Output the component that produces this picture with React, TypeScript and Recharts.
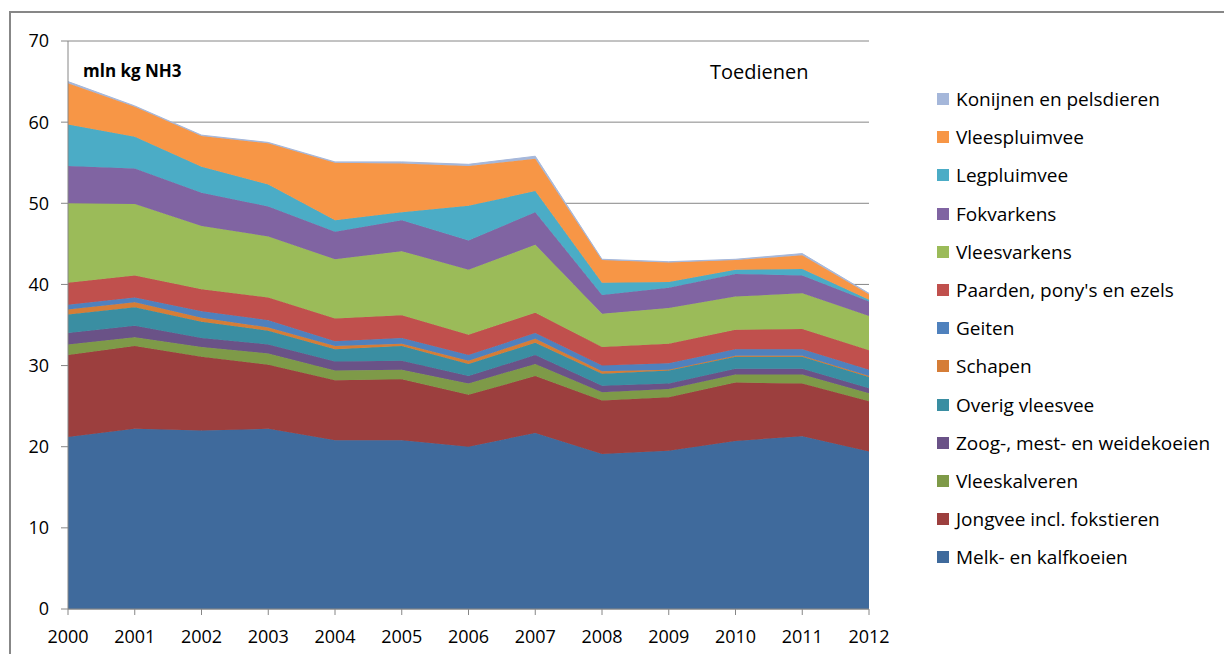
import { Area, AreaChart, CartesianGrid, XAxis, YAxis } from 'recharts';

const years = ['2000', '2001', '2002', '2003', '2004', '2005', '2006', '2007', '2008', '2009', '2010', '2011', '2012'];

const melk = [21.2, 22.2, 22.0, 22.2, 20.8, 20.8, 20.0, 21.7, 19.1, 19.5, 20.7, 21.3, 19.4];
const jongvee = [10.1, 10.2, 9.1, 7.9, 7.4, 7.5, 6.4, 7.0, 6.6, 6.6, 7.2, 6.5, 6.2];
const vleeskalveren = [1.3, 1.1, 1.2, 1.4, 1.2, 1.2, 1.4, 1.5, 1.0, 1.0, 1.0, 1.1, 1.0];
const zoogkoeien = [1.4, 1.4, 1.1, 1.1, 1.1, 1.1, 0.9, 1.1, 0.8, 0.7, 0.7, 0.7, 0.6];
const overigVleesvee = [2.3, 2.3, 2.0, 1.7, 1.5, 1.8, 1.5, 1.5, 1.5, 1.6, 1.5, 1.5, 1.4];
const schapen = [0.6, 0.6, 0.5, 0.4, 0.4, 0.3, 0.4, 0.5, 0.3, 0.1, 0.1, 0.1, 0.1];
const geiten = [0.6, 0.6, 0.8, 0.9, 0.6, 0.7, 0.7, 0.7, 0.7, 0.8, 0.8, 0.8, 0.8];
const paarden = [2.7, 2.7, 2.7, 2.8, 2.8, 2.8, 2.5, 2.5, 2.3, 2.4, 2.4, 2.5, 2.4];
const vleesvarkens = [9.8, 8.8, 7.8, 7.5, 7.3, 7.9, 8.0, 8.4, 4.1, 4.4, 4.1, 4.4, 4.2];
const fokvarkens = [4.6, 4.4, 4.1, 3.7, 3.4, 3.8, 3.6, 4.0, 2.3, 2.5, 2.8, 2.2, 1.8];
const legpluimvee = [5.1, 3.9, 3.2, 2.7, 1.4, 1.0, 4.3, 2.6, 1.5, 0.7, 0.5, 0.8, 0.2];
const vleespluimvee = [5.1, 3.7, 3.8, 5.1, 7.1, 6.0, 4.9, 4.0, 2.8, 2.4, 1.2, 1.7, 0.7];
const konijnen = [0.2, 0.1, 0.1, 0.1, 0.1, 0.2, 0.2, 0.3, 0.1, 0.1, 0.1, 0.2, 0.1];

const yTicks = [0, 10, 20, 30, 40, 50, 60, 70];

// bottom to top
const series = [
  { key: 'melk', name: 'Melk- en kalfkoeien', values: melk, color: '#3F6A9C' },
  { key: 'jongvee', name: 'Jongvee incl. fokstieren', values: jongvee, color: '#9C3F3E' },
  { key: 'vleeskalveren', name: 'Vleeskalveren', values: vleeskalveren, color: '#7E9A48' },
  { key: 'zoog', name: 'Zoog-, mest- en weidekoeien', values: zoogkoeien, color: '#6A5287' },
  { key: 'overig', name: 'Overig vleesvee', values: overigVleesvee, color: '#3A8EA2' },
  { key: 'schapen', name: 'Schapen', values: schapen, color: '#D57D37' },
  { key: 'geiten', name: 'Geiten', values: geiten, color: '#4F81BD' },
  { key: 'paarden', name: "Paarden, pony's en ezels", values: paarden, color: '#C0504D' },
  { key: 'vleesvarkens', name: 'Vleesvarkens', values: vleesvarkens, color: '#9BBB59' },
  { key: 'fokvarkens', name: 'Fokvarkens', values: fokvarkens, color: '#8064A2' },
  { key: 'legpluimvee', name: 'Legpluimvee', values: legpluimvee, color: '#4BACC6' },
  { key: 'vleespluimvee', name: 'Vleespluimvee', values: vleespluimvee, color: '#F79646' },
  { key: 'konijnen', name: 'Konijnen en pelsdieren', values: konijnen, color: '#A5B7DA' },
];

const data = years.map((year, i) => {
  const row: Record<string, string | number> = { year };
  series.forEach((s) => {
    row[s.key] = s.values[i];
  });
  return row;
});

const font = '"Open Sans", sans-serif';

const LegendList = () => (
  <div style={{ position: 'absolute', left: 937, top: 80, fontFamily: font, fontSize: 19, color: '#000' }}>
    {[...series].reverse().map((s) => (
      <div key={s.key} style={{ display: 'flex', alignItems: 'center', height: 38.2 }}>
        <span style={{ width: 12, height: 12, background: s.color, marginRight: 7, display: 'inline-block' }} />
        <span style={{ whiteSpace: 'nowrap' }}>{s.name}</span>
      </div>
    ))}
  </div>
);

export default function App() {
  return (
    <div style={{ position: 'absolute', left: 0, top: 0, width: 1224, height: 654, overflow: 'hidden', background: '#fff' }}>
      <div style={{ position: 'absolute', left: 9, top: 11, width: 1300, height: 700, border: '2px solid #878787' }} />
      <AreaChart
        width={1224}
        height={654}
        data={data}
        margin={{ top: 41, right: 355, bottom: 5, left: 8 }}
        style={{ position: 'absolute', left: 0, top: 0 }}
      >
        <CartesianGrid vertical={false} stroke="#868686" strokeWidth={1} />
        <XAxis
          dataKey="year"
          height={40}
          tickSize={6}
          tickMargin={15}
          stroke="#868686"
          tick={{ fill: '#000', fontSize: 18, fontFamily: font }}
          interval={0}
        />
        <YAxis
          width={60}
          domain={[0, 70]}
          ticks={yTicks}
          tickSize={7}
          tickMargin={12}
          stroke="#868686"
          tick={{ fill: '#000', fontSize: 18, fontFamily: font }}
        />
        {series.map((s) => (
          <Area
            key={s.key}
            type="linear"
            dataKey={s.key}
            name={s.name}
            stackId="1"
            stroke={s.color}
            strokeWidth={1}
            fill={s.color}
            fillOpacity={1}
            isAnimationActive={false}
          />
        ))}
      </AreaChart>
      <LegendList />
      <div style={{ position: 'absolute', left: 83, top: 59, fontFamily: font, fontSize: 17, fontWeight: 700, color: '#000' }}>
        mln kg NH3
      </div>
      <div style={{ position: 'absolute', left: 710, top: 58, fontFamily: font, fontSize: 20, color: '#000' }}>
        Toedienen
      </div>
    </div>
  );
}
